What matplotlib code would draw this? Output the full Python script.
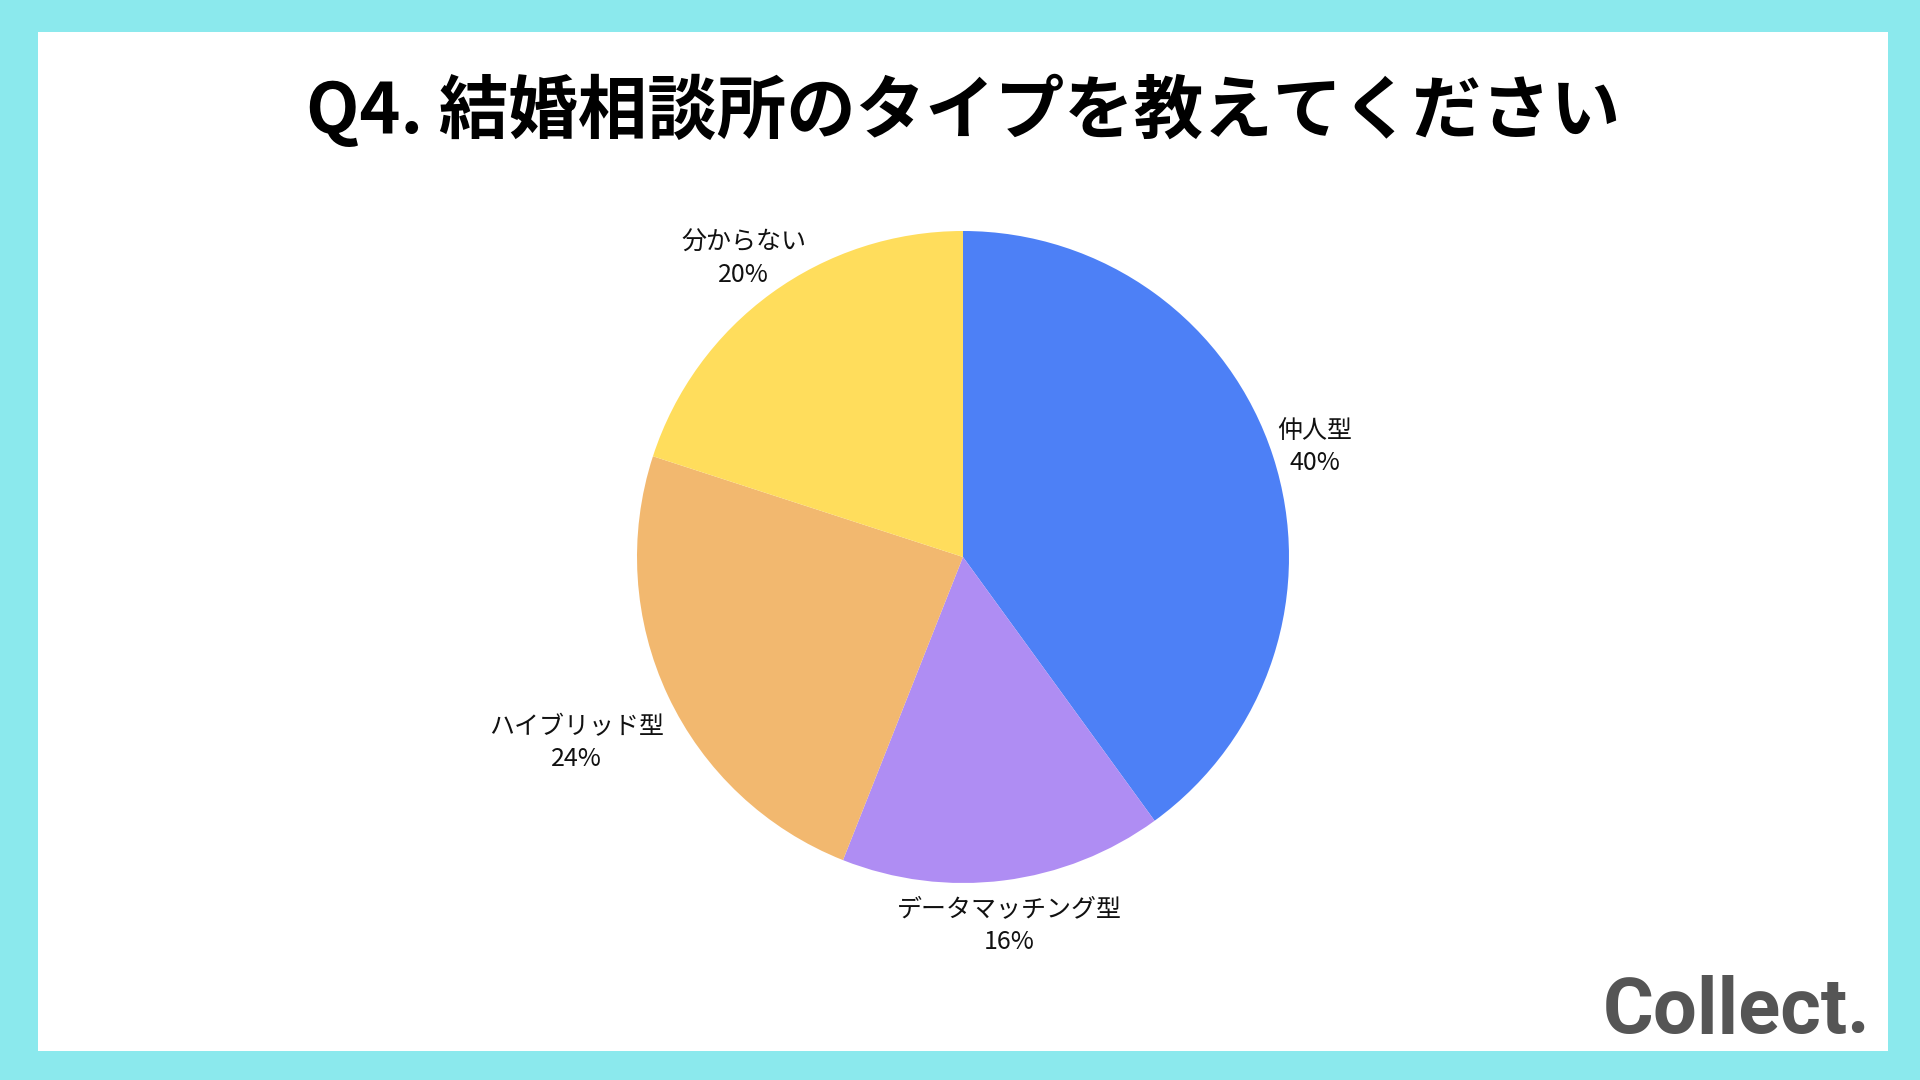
import numpy as np
import matplotlib.pyplot as plt
from matplotlib.patches import Rectangle

plt.rcParams["font.family"] = ["Noto Sans CJK JP", "DejaVu Sans"]

# data
title = "Q4. 結婚相談所のタイプを教えてください"
categories = ["仲人型", "データマッチング型", "ハイブリッド型", "分からない"]
shares = [40, 16, 24, 20]

# style
colors = ["#4D80F6", "#AF8DF3", "#F2B86F", "#FFDD5C"]
label_dist = [1.135, 1.13, 1.31, 1.145]
border = "#8BE9ED"

W, H = 1920, 1080
fig = plt.figure(figsize=(W / 100, H / 100), dpi=100, facecolor=border)
ax = fig.add_axes([0, 0, 1, 1])
ax.set_xlim(0, W)
ax.set_ylim(0, H)
ax.set_aspect("equal")
ax.axis("off")

# white card inside the cyan frame
ax.add_patch(Rectangle((38, 29), 1888 - 38, 1048 - 29, facecolor="white",
                       edgecolor="none", zorder=0))

cx, cy, r = 963, H - 557, 326
wedges, _ = ax.pie(shares, colors=colors, startangle=90, counterclock=False,
                   center=(cx, cy), radius=r, frame=True,
                   wedgeprops=dict(linewidth=0))
ax.set_xlim(0, W)
ax.set_ylim(0, H)
ax.axis("off")

for w, name, val, d in zip(wedges, categories, shares, label_dist):
    ang = np.deg2rad((w.theta1 + w.theta2) / 2)
    x = cx + d * r * np.cos(ang)
    y = cy + d * r * np.sin(ang) - 4
    ax.text(x, y, f"{name}\n{val}%", ha="center", va="center",
            fontsize=18, linespacing=1.3, color="#111111")

fig.text(963 / W, 1 - 111 / H, title, ha="center", va="center",
         fontsize=50, fontweight="bold", color="black")

fig.text(1870 / W, 1 - 1012 / H, "Collect.", ha="right", va="center",
         fontsize=56, fontweight="bold", color="#555555",
         family=["Roboto", "DejaVu Sans"])

fig.savefig("out.png", dpi=100, facecolor=border)
